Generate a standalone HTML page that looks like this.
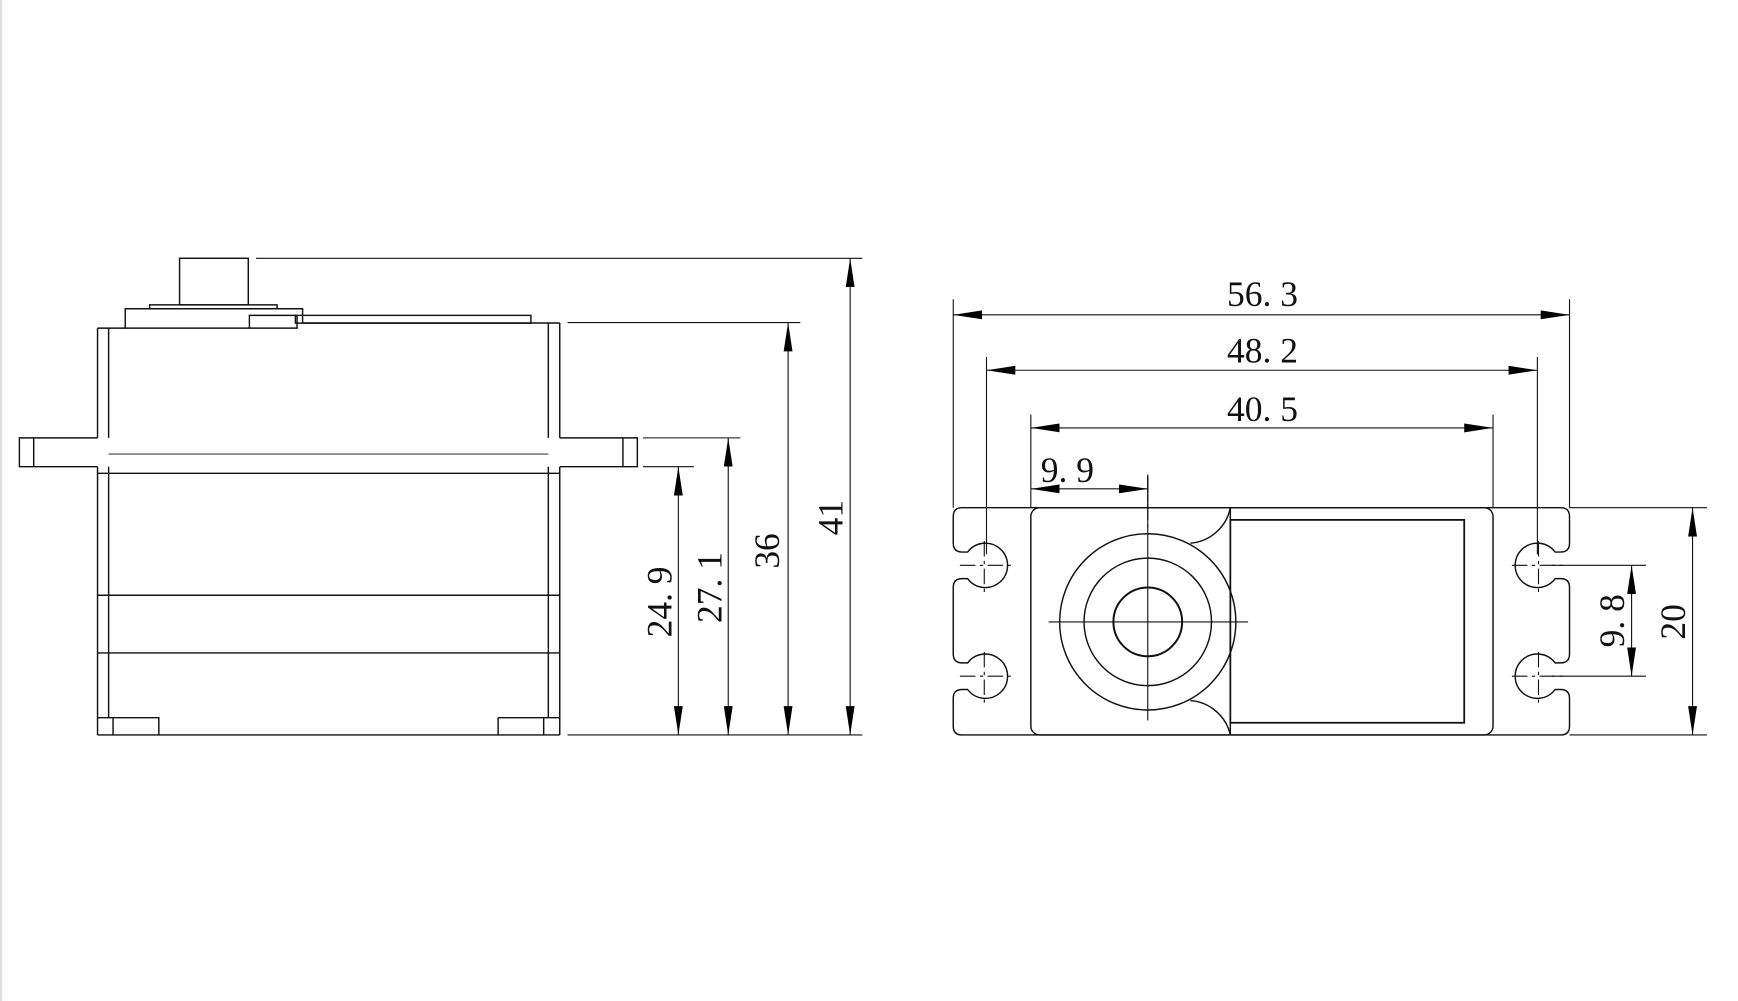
<!DOCTYPE html>
<html><head><meta charset="utf-8"><style>
html,body{margin:0;padding:0;background:#fff;}
svg{display:block;}
text{font-family:"Liberation Serif",serif;font-size:32px;fill:#111;}
</style></head><body>
<svg width="1738" height="1001" viewBox="0 0 1568 903" preserveAspectRatio="none" xmlns="http://www.w3.org/2000/svg">
<defs>
<marker id="a" viewBox="0 0 26 8" refX="26" refY="4" markerWidth="26" markerHeight="8" markerUnits="userSpaceOnUse" orient="auto-start-reverse"><path d="M0,0 L26,4 L0,8 Z" fill="#000"/></marker>
</defs>
<rect x="0" y="0" width="2" height="903" fill="#ddd"/>
<g fill="none" stroke="#111" stroke-width="1.3">
<!-- LEFT VIEW -->
<rect x="162" y="233" width="62" height="42"/>
<rect x="135" y="275" width="115" height="3.5"/>
<path d="M88,296 H113 V278.5 H273 V291.4 H505"/>
<path d="M113,296 H268 V284.5 H225 V296"/>
<rect x="266.5" y="284.5" width="212.5" height="7"/>
<path d="M88,296 V395 M98,296 V395 M505,291.4 V395 M494.7,291.4 V395"/>
<path d="M88,395 H17.5 V421 H88 M30.4,395 V421"/>
<path d="M505,395 H575 V421 H505 M562,395 V421"/>
<path d="M98,409.6 H494.7" stroke="#666"/>
<path d="M88,421 V663 M98,421 V647 M505,421 V663 M494.7,421 V647"/>
<path d="M88,427 H505 M88,537 H505 M88,589 H505 M88,663 H505"/>
<path d="M88,647.4 H143.3 V663 M102,647.4 V663"/>
<path d="M449.4,647.4 H505 M449.4,647.4 V663 M490.5,647.4 V663"/>
<!-- left dims -->
<path d="M231,233 H778 M512,291 H722 M580,395 H668 M580,421 H626 M512,663 H778" stroke-width="1"/>
<path d="M767,233 V663" stroke-width="1" marker-start="url(#a)" marker-end="url(#a)"/>
<path d="M711,291 V663" stroke-width="1" marker-start="url(#a)" marker-end="url(#a)"/>
<path d="M657,395 V663" stroke-width="1" marker-start="url(#a)" marker-end="url(#a)"/>
<path d="M612,421 V663" stroke-width="1" marker-start="url(#a)" marker-end="url(#a)"/>

<!-- RIGHT VIEW outer outline with keyholes -->
<path d="M868,458 H1408 Q1416,458 1416,466 V490
 Q1416,498 1408,498 L1403,498 A20,20 0 1 0 1403,522 L1408,522 Q1416,522 1416,530 V590
 Q1416,598 1408,598 L1403,598 A20,20 0 1 0 1403,622 L1408,622 Q1416,622 1416,630 V655 Q1416,663 1408,663
 H868 Q860,663 860,655 V630 Q860,622 868,622 L873,622 A20,20 0 1 0 873,598 L868,598 Q860,598 860,590
 V530 Q860,522 868,522 L873,522 A20,20 0 1 0 873,498 L868,498 Q860,498 860,490 V466 Q860,458 868,458 Z"/>
<rect x="930" y="458" width="417" height="205" rx="8"/>
<rect x="1110" y="469" width="211" height="183" stroke-width="1.6"/>
<path d="M1110,458 V469 M1110,652 V663"/>
<path d="M1110,458 A40,40 0 0 1 1074,490"/>
<path d="M1074,632 A40,40 0 0 1 1110,663"/>
<circle cx="1035.5" cy="561" r="79.5"/>
<circle cx="1035.5" cy="561" r="57.5"/>
<circle cx="1035.5" cy="561" r="31" stroke-width="1.8"/>
<path d="M946,561 H1126 M1035.5,430 V650 M1025,561 H1046 M1035.5,551 V571" stroke-width="1"/>
<path d="M1035.5,430 V480" stroke-width="1" stroke-dasharray="14,4,3,4"/>
<!-- keyhole center lines -->
<g stroke-width="1" stroke-dasharray="14,4,3,4">
<path d="M866,510 H914 M866,610 H914 M1364,510 H1412 M1364,610 H1412"/>
<path d="M888,488 V534 M888,588 V634 M1388,488 V534 M1388,588 V634"/>
</g>
<!-- right dims -->
<g stroke-width="1">
<path d="M860,270 V458 M1416,270 V458 M890,322 V500 M1387,322 V500 M930,374 V458 M1347,374 V458 M1035.5,428 V458"/>
<path d="M1416,458 H1540 M1416,663 H1540 M1400,510 H1485 M1400,610 H1485"/>
<path d="M860,284 H1416" marker-start="url(#a)" marker-end="url(#a)"/>
<path d="M890,334 H1387" marker-start="url(#a)" marker-end="url(#a)"/>
<path d="M930,386 H1347" marker-start="url(#a)" marker-end="url(#a)"/>
<path d="M930,441 H1035.5" marker-start="url(#a)" marker-end="url(#a)"/>
<path d="M1527,458 V663" marker-start="url(#a)" marker-end="url(#a)"/>
<path d="M1472,510 V610" marker-start="url(#a)" marker-end="url(#a)"/>
</g>
</g>
<text x="1139" y="276" text-anchor="middle">56. 3</text>
<text x="1139" y="327" text-anchor="middle">48. 2</text>
<text x="1139" y="380" text-anchor="middle">40. 5</text>
<text x="963" y="435" text-anchor="middle">9. 9</text>
<text transform="translate(1520,561) rotate(-90)" text-anchor="middle">20</text>
<text transform="translate(1465,560) rotate(-90)" text-anchor="middle">9. 8</text>
<text transform="translate(760,467) rotate(-90)" text-anchor="middle">41</text>
<text transform="translate(703,497) rotate(-90)" text-anchor="middle">36</text>
<text transform="translate(651,530) rotate(-90)" text-anchor="middle">27. 1</text>
<text transform="translate(606,543) rotate(-90)" text-anchor="middle">24. 9</text>
</svg>
</body></html>
